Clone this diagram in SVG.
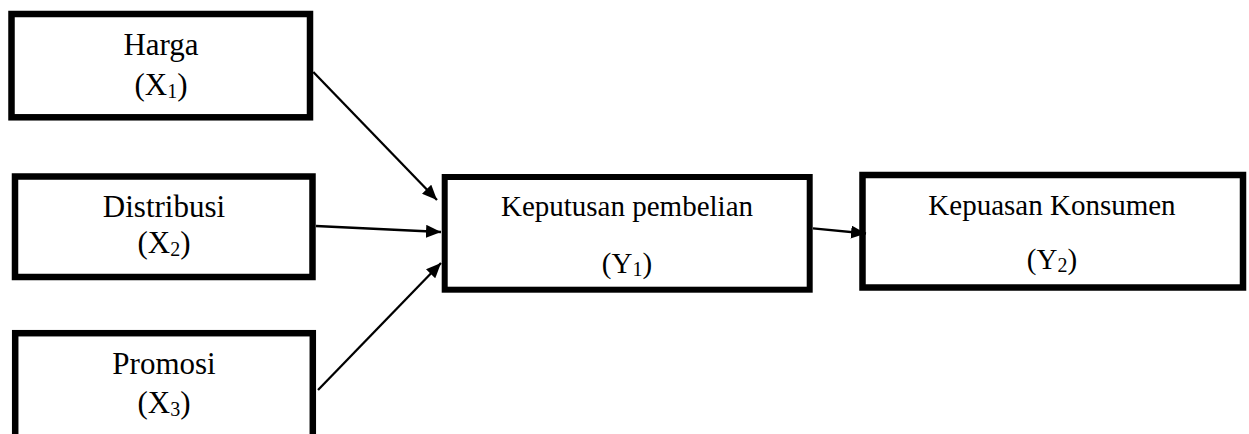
<svg xmlns="http://www.w3.org/2000/svg" width="1249" height="434" viewBox="0 0 1249 434">
<style>
.box{fill:#fff;stroke:#000;stroke-width:6.5}
.t{font-family:"Liberation Serif","Times New Roman",serif;fill:#000;text-anchor:middle}
.l{font-size:31px}
.r{font-size:29px}
.sub{font-size:20px}
.conn line{stroke:#000;stroke-width:2.3;marker-end:url(#ah)}
</style>
<defs>
<marker id="ah" markerUnits="userSpaceOnUse" markerWidth="16" markerHeight="13" refX="15" refY="6.5" orient="auto">
<path d="M0,0 L15,6.5 L0,13 z" fill="#000"/>
</marker>
</defs>
<rect width="1249" height="434" fill="#fff"/>
<g id="harga">
<rect class="box" x="11.5" y="14" width="298.5" height="103.3"/>
<text class="t l" x="161" y="55">Harga</text>
<text class="t l" x="161" y="95">(X<tspan class="sub" dy="3">1</tspan><tspan dy="-3">)</tspan></text>
</g>
<g id="distribusi">
<rect class="box" x="15" y="176.5" width="297.5" height="100.5"/>
<text class="t l" x="164" y="216.7">Distribusi</text>
<text class="t l" x="164" y="253.3">(X<tspan class="sub" dy="3">2</tspan><tspan dy="-3">)</tspan></text>
</g>
<g id="promosi">
<rect class="box" x="15.2" y="333.2" width="297.6" height="125"/>
<text class="t l" x="164" y="374">Promosi</text>
<text class="t l" x="164" y="413.3">(X<tspan class="sub" dy="3">3</tspan><tspan dy="-3">)</tspan></text>
</g>
<g id="keputusan">
<rect class="box" x="444.7" y="177" width="365" height="112.7" style="stroke-width:6"/>
<text class="t r" x="627" y="216">Keputusan pembelian</text>
<text class="t r" x="627" y="273">(Y<tspan class="sub" dy="3">1</tspan><tspan dy="-3">)</tspan></text>
</g>
<g id="kepuasan">
<rect class="box" x="862.5" y="175" width="380.5" height="112.5"/>
<text class="t r" x="1052" y="215">Kepuasan Konsumen</text>
<text class="t r" x="1052" y="269">(Y<tspan class="sub" dy="3">2</tspan><tspan dy="-3">)</tspan></text>
</g>
<g class="conn" id="connectors">
<line x1="313.3" y1="72" x2="437" y2="200"/>
<line x1="316" y1="226" x2="441" y2="232"/>
<line x1="318" y1="390" x2="441" y2="263"/>
<line x1="813" y1="228.3" x2="866" y2="233.5"/>
</g>
</svg>
